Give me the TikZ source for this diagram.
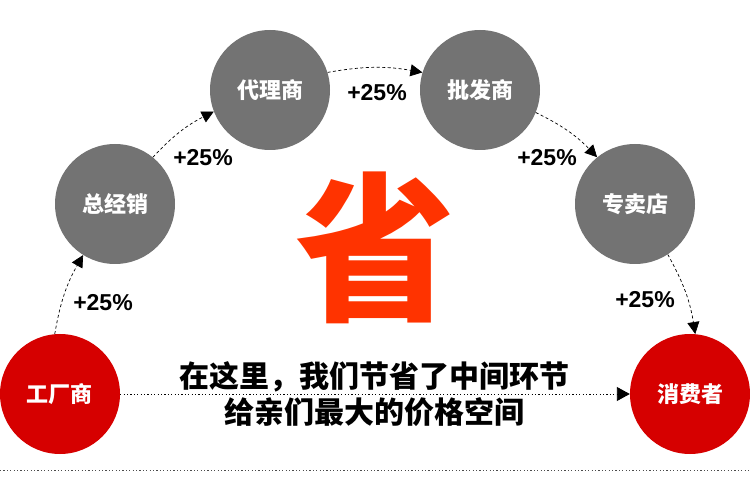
\documentclass[tikz,border=0pt]{standalone}
\usepackage{fontspec}
\setmainfont{Liberation Sans}
\newfontfamily\cjk{Noto Sans CJK SC}
\usetikzlibrary{arrows.meta}
\definecolor{gr}{RGB}{115,115,115}
\definecolor{rd}{RGB}{214,0,0}
\definecolor{shengc}{RGB}{255,51,0}
\begin{document}
\begin{tikzpicture}[x=1pt,y=-1pt,
  graycirc/.style={circle,fill=gr,minimum size=120pt,inner sep=0pt,text=white,
    font=\cjk\bfseries\fontsize{22}{22}\selectfont},
  redcirc/.style={graycirc,fill=rd},
  flow/.style={line width=0.7pt,dash pattern=on 3pt off 2.5pt,
    -{Triangle[length=12pt,width=12pt]}},
  dotline/.style={line width=0.9pt,dash pattern=on 1.2pt off 2.2pt},
  pct/.style={font=\bfseries\fontsize{23}{23}\selectfont,inner sep=0pt},
  bigtext/.style={font=\cjk\bfseries\fontsize{30}{30}\selectfont,inner sep=0pt},
]
\useasboundingbox (0,0) rectangle (750,478);
% bottom dotted line
\coordinate (bl) at (0,470);
\coordinate (br) at (750,470);
\draw[dotline,black!70] (bl) -- (br);

\node[redcirc] (fac) at (60,394) {工厂商};
\node[graycirc] (zj) at (115,204) {总经销};
\node[graycirc] (dl) at (270,90) {代理商};
\node[graycirc] (pf) at (480,90) {批发商};
\node[graycirc] (zm) at (635,204) {专卖店};
\node[redcirc] (cons) at (690,394) {消费者};

\draw[flow] (fac.95) to[bend left=10] (zj.-122);
\draw[flow] (zj.51) to[bend left=10] (dl.201);
\draw[flow] (dl.17) to[bend left=10] (pf.163);
\draw[flow] (pf.-22) to[bend left=10] (zm.129);
\draw[flow] (zm.-57) to[bend left=10] (cons.85);

\draw[dotline,-{Triangle[length=13pt,width=14pt]}] (fac.east) -- (cons.west);

\node[pct] (p1) at (103,303) {+25\%};
\node[pct] (p2) at (203,158) {+25\%};
\node[pct] (p3) at (377,93) {+25\%};
\node[pct] (p4) at (547,158) {+25\%};
\node[pct] (p5) at (645,300) {+25\%};

\node[text=shengc,font=\cjk\bfseries\fontsize{160}{160}\selectfont,inner sep=0pt] (sheng) at (375,248) {省};

\node[bigtext] (t1) at (374,377) {在这里，我们节省了中间环节};
\node[bigtext] (t2) at (374,412) {给亲们最大的价格空间};
\end{tikzpicture}
\end{document}
